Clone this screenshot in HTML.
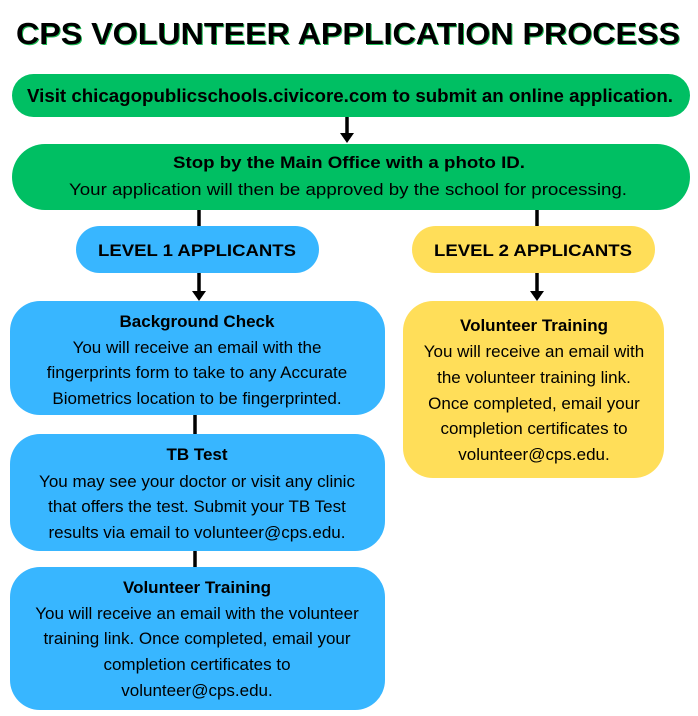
<!DOCTYPE html>
<html><head><meta charset="utf-8"><style>
html,body{margin:0;padding:0;background:#fff;}
svg{display:block;}
text{font-family:"Liberation Sans",Arial,sans-serif;fill:#000;}
.b{font-weight:bold;}
.r{font-size:17px;}
</style></head><body>
<svg width="698" height="716" viewBox="0 0 698 716" xmlns="http://www.w3.org/2000/svg">
<text x="349" y="45" text-anchor="middle" class="b" font-size="31" textLength="664" lengthAdjust="spacingAndGlyphs" style="fill:#1db954">CPS VOLUNTEER APPLICATION PROCESS</text>
<text x="348" y="44" text-anchor="middle" class="b" font-size="31" textLength="664" lengthAdjust="spacingAndGlyphs">CPS VOLUNTEER APPLICATION PROCESS</text>

<!-- connectors -->
<g stroke="#000" stroke-width="3.5" fill="none">
<line x1="347" y1="117" x2="347" y2="134"/>
<line x1="199" y1="208" x2="199" y2="228"/>
<line x1="537" y1="208" x2="537" y2="228"/>
<line x1="199" y1="272" x2="199" y2="292"/>
<line x1="537" y1="272" x2="537" y2="292"/>
<line x1="195" y1="414" x2="195" y2="436"/>
<line x1="195" y1="549" x2="195" y2="569"/>
</g>
<g fill="#000">
<polygon points="340,133 354,133 347,143"/>
<polygon points="192,291 206,291 199,301"/>
<polygon points="530,291 544,291 537,301"/>
</g>

<rect x="12" y="74" width="678" height="43" rx="21.5" fill="#00bf63"/>
<text x="350" y="102" text-anchor="middle" class="b" font-size="18" textLength="646" lengthAdjust="spacingAndGlyphs">Visit chicagopublicschools.civicore.com to submit an online application.</text>

<rect x="12" y="144" width="678" height="66" rx="33" fill="#00bf63"/>
<text x="349" y="168" text-anchor="middle" class="b" font-size="17" textLength="352" lengthAdjust="spacingAndGlyphs">Stop by the Main Office with a photo ID.</text>
<text x="348" y="195" text-anchor="middle" font-size="17" textLength="558" lengthAdjust="spacingAndGlyphs">Your application will then be approved by the school for processing.</text>

<rect x="76" y="226" width="243" height="47" rx="23.5" fill="#38b6ff"/>
<text x="197" y="256" text-anchor="middle" class="b" font-size="17" textLength="198" lengthAdjust="spacingAndGlyphs">LEVEL 1 APPLICANTS</text>
<rect x="412" y="226" width="243" height="47" rx="23.5" fill="#ffde59"/>
<text x="533" y="256" text-anchor="middle" class="b" font-size="17" textLength="198" lengthAdjust="spacingAndGlyphs">LEVEL 2 APPLICANTS</text>

<rect x="10" y="301" width="375" height="114" rx="30" fill="#38b6ff"/>
<text x="197" y="327" text-anchor="middle" class="b r">Background Check</text>
<text x="197" y="353" text-anchor="middle" class="r">You will receive an email with the</text>
<text x="197" y="378" text-anchor="middle" class="r">fingerprints form to take to any Accurate</text>
<text x="197" y="404" text-anchor="middle" class="r">Biometrics location to be fingerprinted.</text>

<rect x="10" y="434" width="375" height="117" rx="30" fill="#38b6ff"/>
<text x="197" y="460" text-anchor="middle" class="b r">TB Test</text>
<text x="197" y="487" text-anchor="middle" class="r">You may see your doctor or visit any clinic</text>
<text x="197" y="512" text-anchor="middle" class="r">that offers the test. Submit your TB Test</text>
<text x="197" y="538" text-anchor="middle" class="r">results via email to volunteer@cps.edu.</text>

<rect x="10" y="567" width="375" height="143" rx="30" fill="#38b6ff"/>
<text x="197" y="593" text-anchor="middle" class="b r">Volunteer Training</text>
<text x="197" y="619" text-anchor="middle" class="r">You will receive an email with the volunteer</text>
<text x="197" y="644" text-anchor="middle" class="r">training link.  Once completed, email your</text>
<text x="197" y="670" text-anchor="middle" class="r">completion certificates to</text>
<text x="197" y="696" text-anchor="middle" class="r">volunteer@cps.edu.</text>

<rect x="403" y="301" width="261" height="177" rx="30" fill="#ffde59"/>
<text x="534" y="331" text-anchor="middle" class="b r">Volunteer Training</text>
<text x="534" y="357" text-anchor="middle" class="r">You will receive an email with</text>
<text x="534" y="383" text-anchor="middle" class="r">the volunteer training link.</text>
<text x="534" y="409" text-anchor="middle" class="r">Once completed, email your</text>
<text x="534" y="434" text-anchor="middle" class="r">completion certificates to</text>
<text x="534" y="460" text-anchor="middle" class="r">volunteer@cps.edu.</text>
</svg>
</body></html>
